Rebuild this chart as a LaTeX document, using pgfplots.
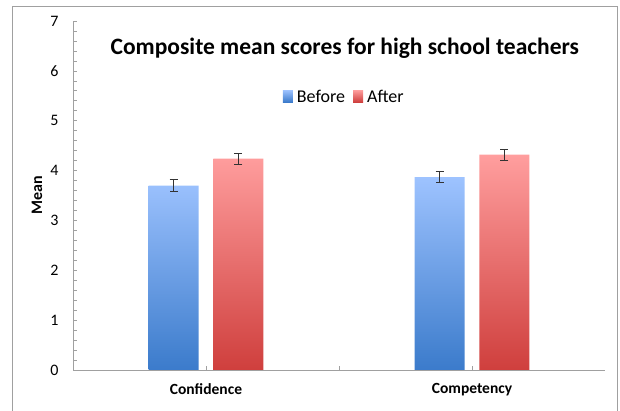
\documentclass[border=0pt]{standalone}
\usepackage{pgfplots}
\pgfplotsset{compat=1.18}
\usepackage{pgfplotstable}
\usepackage{fontspec}
\setmainfont{Carlito}

\definecolor{blueTop}{HTML}{9EC3FF}
\definecolor{blueBot}{HTML}{3B7BCB}
\definecolor{redTop}{HTML}{FF9E9E}
\definecolor{redBot}{HTML}{CF3F3D}
\definecolor{axisgray}{HTML}{A0A0A0}

% x  mean  err
\pgfplotstableread{
x before berr after aerr
0 3.70 0.12 4.24 0.11
1 3.87 0.11 4.32 0.11
}\scores

\begin{document}
\begin{tikzpicture}
\path[use as bounding box] (0pt,0pt) rectangle (620pt,411pt);
\draw[axisgray, line width=1pt] (12pt,0pt) -- (12pt,404pt) -- (617pt,404pt) -- (617pt,0pt);
\begin{axis}[
    at={(73pt,41pt)}, anchor=south west,
    scale only axis,
    width=532pt, height=349pt,
    xmin=-0.5, xmax=1.5,
    ymin=0, ymax=7,
    ytick={0,...,7},
    minor y tick num=4,
    xtick={0,0.5,1},
    xticklabels={\textbf{Confidence},,\textbf{Competency}},
    axis x line*=bottom,
    axis y line*=left,
    axis line style={axisgray, line width=0.8pt},
    tick style={axisgray, line width=0.6pt},
    major tick length=4pt, minor tick length=4pt,
    tick align=inside,
    ticklabel style={font=\fontsize{16}{18}\selectfont, text=black},
    /pgf/number format/assume math mode=true,
    yticklabel style={xshift=-11pt},
    xticklabel style={font=\fontsize{15.5}{18}\selectfont, yshift=-10pt},
    ylabel={\textbf{Mean}},
    every axis y label/.style={at={(axis description cs:0,0.5)}, xshift=-36pt,
        rotate=90, anchor=center, font=\fontsize{16}{18}\selectfont},
    legend style={draw=none, fill=none, at={(0.51,0.782)}, anchor=center,
        font=\fontsize{18}{20}\selectfont, legend columns=2,
        /tikz/every even column/.append style={column sep=6pt}},
    legend image code/.code={\fill[#1] (0pt,-5pt) rectangle (10pt,7pt);
        \path (12pt,0pt);},
    clip=false,
]
\addplot[ybar, bar width=0.188, bar shift=0, draw=none,
    top color=blueTop, bottom color=blueBot,
    error bars/.cd, y dir=both, y explicit,
    error bar style={black!80, line width=0.8pt},
    error mark options={black!80, line width=0.8pt, mark size=4pt, rotate=90}]
    table[x expr=\thisrow{x}-0.122, y=before, y error=berr] {\scores};
\addlegendentry{Before}
\addplot[ybar, bar width=0.188, bar shift=0, draw=none,
    top color=redTop, bottom color=redBot,
    error bars/.cd, y dir=both, y explicit,
    error bar style={black!80, line width=0.8pt},
    error mark options={black!80, line width=0.8pt, mark size=4pt, rotate=90}]
    table[x expr=\thisrow{x}+0.122, y=after, y error=aerr] {\scores};
\addlegendentry{After}
\node[font=\fontsize{23.5}{27}\selectfont\bfseries] at (rel axis cs:0.511,0.923)
    {Composite mean scores for high school teachers};
\end{axis}
\end{tikzpicture}
\end{document}
